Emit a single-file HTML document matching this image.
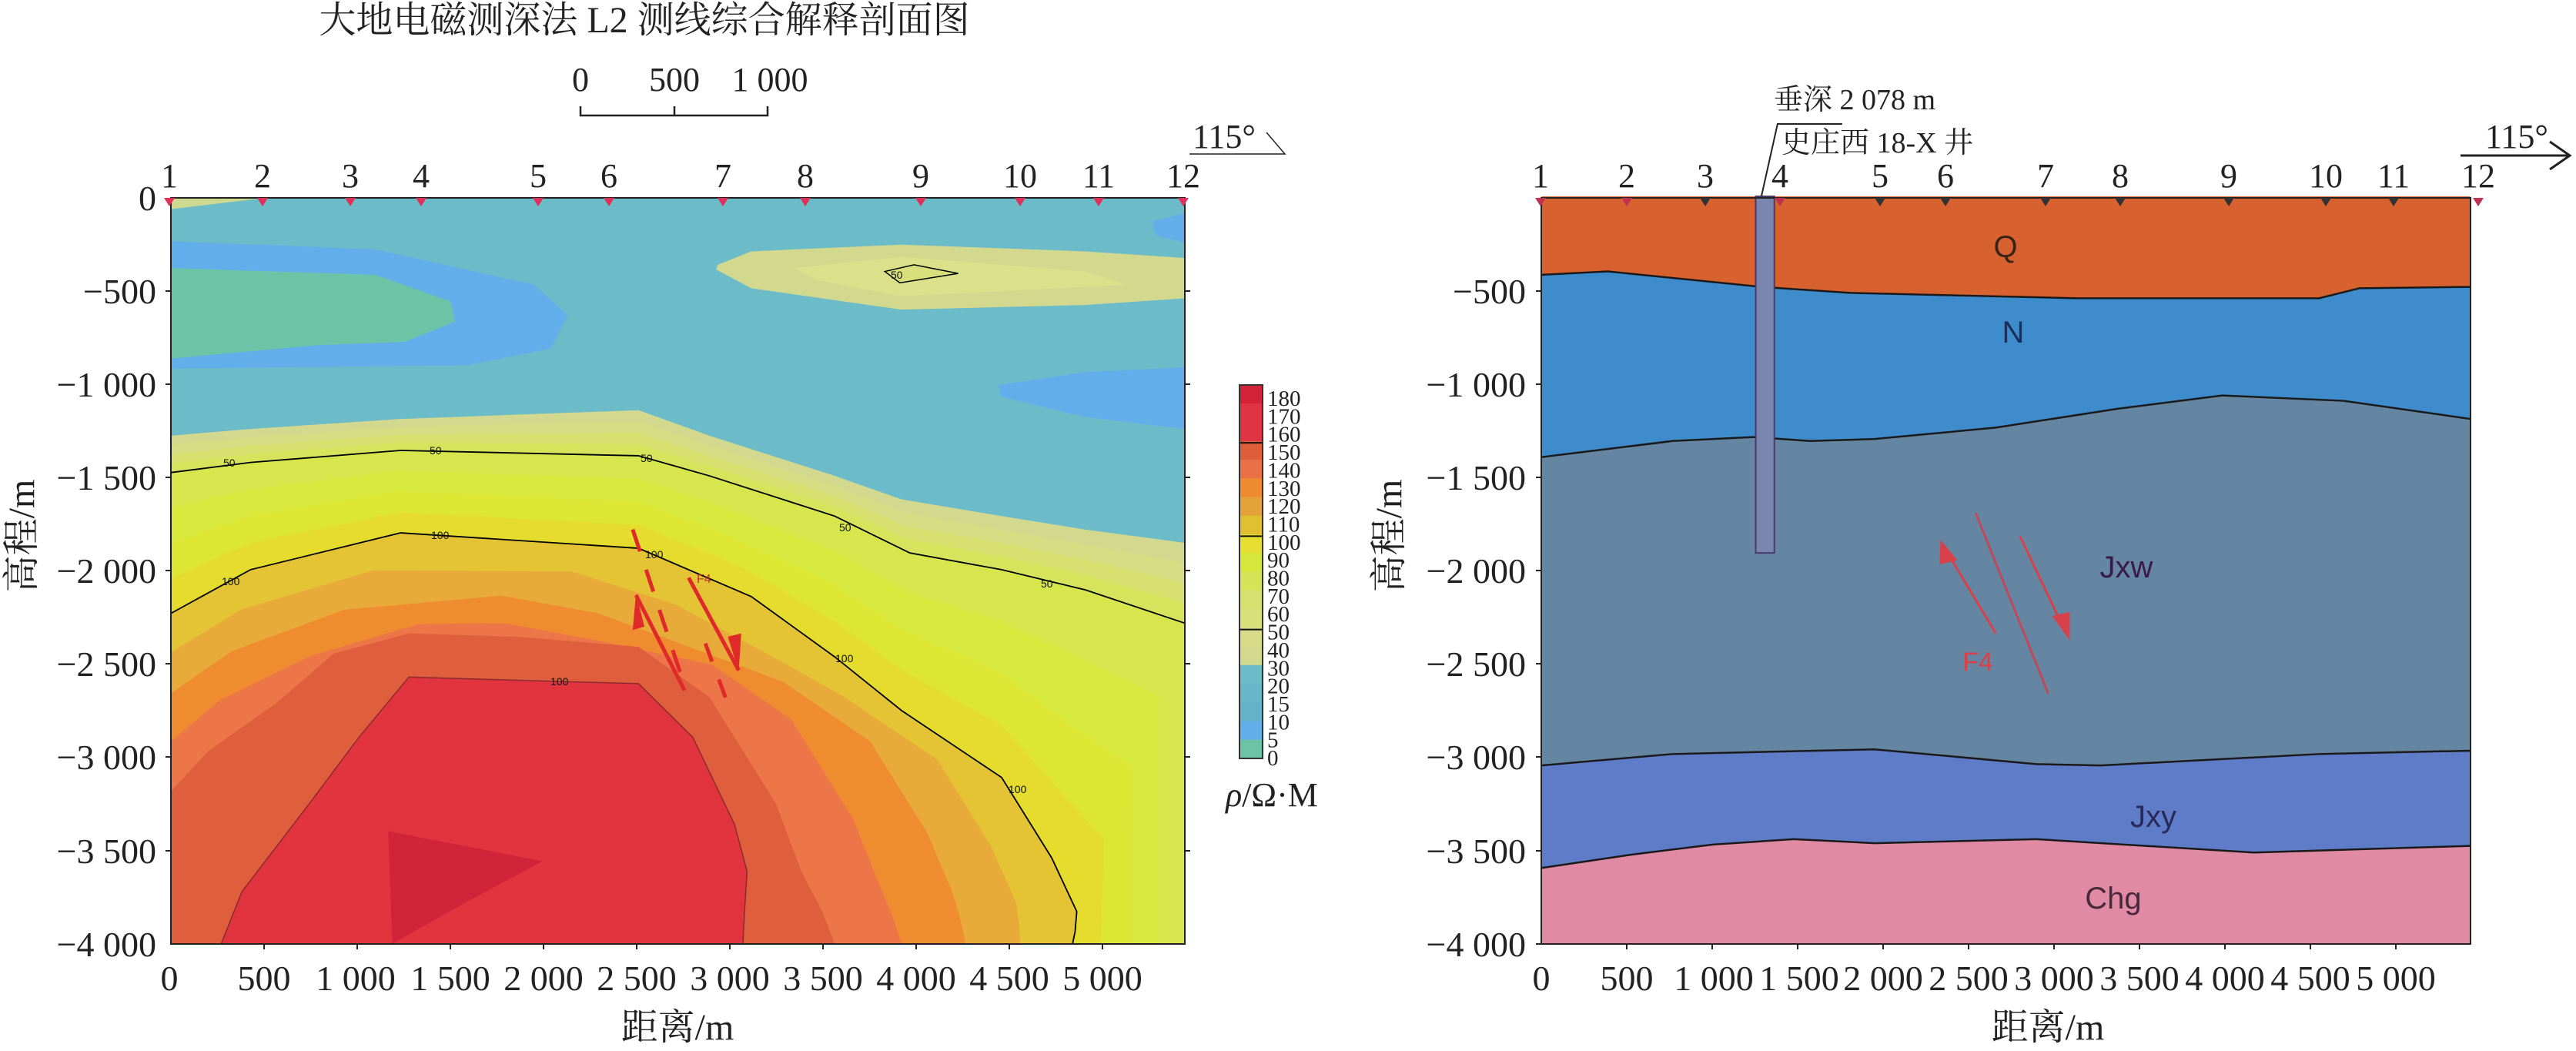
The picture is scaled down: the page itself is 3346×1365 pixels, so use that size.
<!DOCTYPE html>
<html><head><meta charset="utf-8">
<style>
html,body{margin:0;padding:0;background:#fff;}
svg{display:block;}
.s{font-family:"Liberation Serif","Noto Serif CJK SC",serif;}
.a{font-family:"Liberation Sans",sans-serif;}
</style></head><body>
<svg id="svg" width="3346" height="1365" viewBox="0 0 3346 1365" xmlns="http://www.w3.org/2000/svg">
<defs>
<clipPath id="cl"><rect x="205" y="295" width="1215" height="1113"/></clipPath>
</defs>
<rect width="3346" height="1365" fill="#fff"/>
<g transform="scale(1.0842,0.8705)">
 <g clip-path="url(#cl)">
  <rect x="205" y="295" width="1215" height="1113" fill="#6bbcc8"/>
  <polygon points="205,295 320,295 205,312" fill="#cdd98e"/>
  <polygon points="205,360 450,372 640,425 680,470 660,520 560,545 205,550" fill="#62aeea"/>
  <polygon points="205,400 450,410 540,450 545,480 485,510 380,515 205,535" fill="#6cc4a6"/>
  <polygon points="1195,575 1300,555 1420,548 1420,640 1300,622 1200,592" fill="#62aeea"/>
  <polygon points="1380,330 1420,318 1420,362 1385,352" fill="#62aeea"/>
  <polygon points="860,395 900,375 1080,365 1300,375 1420,385 1420,445 1300,455 1080,462 900,430 858,402" fill="#d2d88e"/>
  <polygon points="950,400 1080,383 1300,405 1350,425 1080,442 980,418" fill="#dbe08a"/>
  <polygon points="1060,405 1095,395 1148,408 1078,422" fill="#d8e07c" stroke="#000" stroke-width="1.5" vector-effect="non-scaling-stroke"/>
  <g id="bands"></g>
  <polygon id="core" points="" fill="#e2343f"/>
  <polygon points="465,1240 650,1285 560,1345 470,1408" fill="#d1233a"/>
  <g fill="none">
   <polyline id="c50" stroke="#000" stroke-width="1.8" vector-effect="non-scaling-stroke" points=""/>
   <polyline id="c100" stroke="#000" stroke-width="1.8" vector-effect="non-scaling-stroke" points=""/>
   <polyline id="c150" stroke="#8a2a30" stroke-width="1.5" vector-effect="non-scaling-stroke" points=""/>
  </g>
  <g stroke="#e02a2a" stroke-width="5" fill="none">
   <line x1="758" y1="790" x2="822" y2="1030" stroke-dasharray="30 25" vector-effect="non-scaling-stroke"/>
   <line x1="845" y1="960" x2="875" y2="1060" stroke-dasharray="25 25" vector-effect="non-scaling-stroke"/>
   <line x1="825" y1="862" x2="885" y2="1000" vector-effect="non-scaling-stroke"/>
   <line x1="762" y1="888" x2="820" y2="1030" vector-effect="non-scaling-stroke"/>
   <polygon points="885,1002 872,950 888,945" fill="#e02a2a" stroke="none"/>
   <polygon points="762,885 758,940 772,935" fill="#e02a2a" stroke="none"/>
  </g>
 </g>
</g>
<rect x="222" y="257" width="1317" height="969" fill="none" stroke="#222" stroke-width="2"/>
<g class="a" font-size="14" fill="#111">
 <text x="290" y="606">50</text><text x="558" y="590">50</text><text x="832" y="600">50</text>
 <text x="1090" y="690">50</text><text x="1352" y="763">50</text><text x="1157" y="362">50</text>
 <text x="560" y="700">100</text><text x="288" y="760">100</text><text x="838" y="725">100</text>
 <text x="1085" y="860">100</text><text x="1310" y="1030">100</text><text x="715" y="890">100</text>
</g>
<text x="905" y="757" class="a" font-size="16" fill="#c03030">F4</text>
<g stroke="#222" stroke-width="2">
 <line x1="1539" y1="378" x2="1546" y2="378"/><line x1="1539" y1="499" x2="1546" y2="499"/><line x1="1539" y1="620" x2="1546" y2="620"/><line x1="1539" y1="741" x2="1546" y2="741"/><line x1="1539" y1="862" x2="1546" y2="862"/><line x1="1539" y1="983" x2="1546" y2="983"/><line x1="1539" y1="1105" x2="1546" y2="1105"/>
 <line x1="215" y1="378" x2="222" y2="378"/><line x1="215" y1="499" x2="222" y2="499"/><line x1="215" y1="620" x2="222" y2="620"/><line x1="215" y1="741" x2="222" y2="741"/><line x1="215" y1="862" x2="222" y2="862"/><line x1="215" y1="983" x2="222" y2="983"/><line x1="215" y1="1105" x2="222" y2="1105"/>
 <line x1="343" y1="1226" x2="343" y2="1233"/><line x1="464" y1="1226" x2="464" y2="1233"/><line x1="585" y1="1226" x2="585" y2="1233"/><line x1="706" y1="1226" x2="706" y2="1233"/><line x1="827" y1="1226" x2="827" y2="1233"/><line x1="948" y1="1226" x2="948" y2="1233"/><line x1="1069" y1="1226" x2="1069" y2="1233"/><line x1="1190" y1="1226" x2="1190" y2="1233"/><line x1="1311" y1="1226" x2="1311" y2="1233"/><line x1="1432" y1="1226" x2="1432" y2="1233"/>
</g>
<g class="s" font-size="46" fill="#222" text-anchor="end">
 <text x="203" y="273">0</text><text x="203" y="394">−500</text><text x="203" y="515">−1 000</text><text x="203" y="636">−1 500</text><text x="203" y="757">−2 000</text><text x="203" y="878">−2 500</text><text x="203" y="999">−3 000</text><text x="203" y="1121">−3 500</text><text x="203" y="1242">−4 000</text>
</g>
<g class="s" font-size="46" fill="#222" text-anchor="middle">
 <text x="220" y="1286">0</text><text x="343" y="1286">500</text><text x="462" y="1286">1 000</text><text x="585" y="1286">1 500</text><text x="706" y="1286">2 000</text><text x="827" y="1286">2 500</text><text x="948" y="1286">3 000</text><text x="1069" y="1286">3 500</text><text x="1190" y="1286">4 000</text><text x="1311" y="1286">4 500</text><text x="1432" y="1286">5 000</text>
</g>
<text x="880" y="1350" class="s" font-size="48" fill="#222" text-anchor="middle">距离/m</text>
<text transform="translate(44,696) rotate(-90)" class="s" font-size="48" fill="#222" text-anchor="middle">高程/m</text>
<g class="s" font-size="44" fill="#222" text-anchor="middle">
 <text x="220" y="243">1</text><text x="341" y="243">2</text><text x="455" y="243">3</text><text x="547" y="243">4</text><text x="699" y="243">5</text><text x="791" y="243">6</text><text x="939" y="243">7</text><text x="1046" y="243">8</text><text x="1196" y="243">9</text><text x="1325" y="243">10</text><text x="1427" y="243">11</text><text x="1537" y="243">12</text>
</g>
<g fill="#e0305a" id="trl"></g>
<text x="837" y="42" class="s" font-size="48" fill="#222" text-anchor="middle">大地电磁测深法 L2 测线综合解释剖面图</text>
<g class="s" font-size="44" fill="#222" text-anchor="middle">
 <text x="754" y="118">0</text><text x="876" y="118">500</text><text x="1000" y="118">1 000</text>
</g>
<polyline points="754,138 754,150 997,150 997,138" fill="none" stroke="#222" stroke-width="2.5"/>
<line x1="876" y1="150" x2="876" y2="138" stroke="#222" stroke-width="2.5"/>
<text x="1590" y="192" class="s" font-size="44" fill="#222" text-anchor="middle">115°</text>
<polyline points="1545,200 1669,200 1645,172" fill="none" stroke="#222" stroke-width="1.5"/>
<g id="cb"></g>
<rect x="1610" y="500" width="30" height="485" fill="none" stroke="#333" stroke-width="2"/>
<g class="s" font-size="29" fill="#222" id="cbl"></g>
<text x="1652" y="1047" class="s" font-size="44" fill="#222" text-anchor="middle"><tspan font-style="italic">ρ</tspan>/Ω·M</text>

<g transform="translate(1700,0) scale(1.0498,0.8705)">
 <rect x="288" y="293" width="1149" height="1115" fill="#d8622f"/>
 <polygon points="288,410 370,405 560,428 670,437 950,445 1250,445 1300,430 1437,428 1437,1408 288,1408" fill="#3e8ccb"/>
 <polygon points="288,682 450,658 550,652 620,658 700,655 850,638 1000,610 1130,590 1280,598 1437,625 1437,1408 288,1408" fill="#6586a3"/>
 <polygon points="288,1142 450,1125 700,1118 900,1140 980,1142 1250,1125 1437,1120 1437,1408 288,1408" fill="#5f7cc8"/>
 <polygon points="288,1295 400,1275 500,1260 600,1252 700,1258 900,1252 1170,1272 1437,1262 1437,1408 288,1408" fill="#e08aa6"/>
 <g fill="none" stroke="#1a1a1a" stroke-width="2.5">
  <polyline vector-effect="non-scaling-stroke" points="288,410 370,405 560,428 670,437 950,445 1250,445 1300,430 1437,428"/>
  <polyline vector-effect="non-scaling-stroke" points="288,682 450,658 550,652 620,658 700,655 850,638 1000,610 1130,590 1280,598 1437,625"/>
  <polyline vector-effect="non-scaling-stroke" points="288,1142 450,1125 700,1118 900,1140 980,1142 1250,1125 1437,1120"/>
  <polyline vector-effect="non-scaling-stroke" points="288,1295 400,1275 500,1260 600,1252 700,1258 900,1252 1170,1272 1437,1262"/>
 </g>
 <rect x="553" y="293" width="23" height="532" fill="#7a86b0" stroke="#4a3a6a" stroke-width="2" vector-effect="non-scaling-stroke"/>
 <polyline points="560,293 580,185 660,185" fill="none" stroke="#222" stroke-width="2" vector-effect="non-scaling-stroke"/>
 <g stroke="#d8404a" stroke-width="3" fill="none">
  <line x1="850" y1="945" x2="788" y2="820" vector-effect="non-scaling-stroke"/>
  <line x1="825" y1="765" x2="915" y2="1035" stroke="#c04858" vector-effect="non-scaling-stroke"/>
  <line x1="880" y1="800" x2="935" y2="940" vector-effect="non-scaling-stroke"/>
  <polygon points="783,810 782,840 800,835" fill="#d8404a"/>
  <polygon points="940,950 922,920 940,915" fill="#d8404a"/>
 </g>
</g>
<rect x="2002" y="257" width="1207" height="969" fill="none" stroke="#222" stroke-width="2"/>
<g class="a" font-size="40" text-anchor="middle">
 <text x="2605" y="334" fill="#3a2418">Q</text>
 <text x="2615" y="445" fill="#1a2f5a">N</text>
 <text x="2762" y="750" fill="#3a1a4a">Jxw</text>
 <text x="2797" y="1074" fill="#2a2a5a">Jxy</text>
 <text x="2745" y="1180" fill="#4a2a3a">Chg</text>
 <text x="2569" y="871" fill="#d8404a" font-size="34">F4</text>
</g>
<g class="s" font-size="38" fill="#222">
 <text x="2304" y="142">垂深 2 078 m</text>
 <text x="2314" y="198">史庄西 18-X 井</text>
</g>
<g stroke="#222" stroke-width="2">
 <line x1="1995" y1="378" x2="2002" y2="378"/><line x1="1995" y1="499" x2="2002" y2="499"/><line x1="1995" y1="620" x2="2002" y2="620"/><line x1="1995" y1="741" x2="2002" y2="741"/><line x1="1995" y1="862" x2="2002" y2="862"/><line x1="1995" y1="983" x2="2002" y2="983"/><line x1="1995" y1="1105" x2="2002" y2="1105"/><line x1="1995" y1="1226" x2="2002" y2="1226"/>
 <line x1="2113" y1="1226" x2="2113" y2="1233"/><line x1="2224" y1="1226" x2="2224" y2="1233"/><line x1="2335" y1="1226" x2="2335" y2="1233"/><line x1="2446" y1="1226" x2="2446" y2="1233"/><line x1="2557" y1="1226" x2="2557" y2="1233"/><line x1="2668" y1="1226" x2="2668" y2="1233"/><line x1="2779" y1="1226" x2="2779" y2="1233"/><line x1="2890" y1="1226" x2="2890" y2="1233"/><line x1="3001" y1="1226" x2="3001" y2="1233"/><line x1="3112" y1="1226" x2="3112" y2="1233"/>
</g>
<g class="s" font-size="46" fill="#222" text-anchor="end">
 <text x="1982" y="394">−500</text><text x="1982" y="515">−1 000</text><text x="1982" y="636">−1 500</text><text x="1982" y="757">−2 000</text><text x="1982" y="878">−2 500</text><text x="1982" y="999">−3 000</text><text x="1982" y="1121">−3 500</text><text x="1982" y="1242">−4 000</text>
</g>
<g class="s" font-size="46" fill="#222" text-anchor="middle">
 <text x="2002" y="1286">0</text><text x="2113" y="1286">500</text><text x="2226" y="1286">1 000</text><text x="2337" y="1286">1 500</text><text x="2446" y="1286">2 000</text><text x="2557" y="1286">2 500</text><text x="2668" y="1286">3 000</text><text x="2779" y="1286">3 500</text><text x="2890" y="1286">4 000</text><text x="3001" y="1286">4 500</text><text x="3112" y="1286">5 000</text>
</g>
<text x="2660" y="1350" class="s" font-size="48" fill="#222" text-anchor="middle">距离/m</text>
<text transform="translate(1820,696) rotate(-90)" class="s" font-size="48" fill="#222" text-anchor="middle">高程/m</text>
<g class="s" font-size="44" fill="#222" text-anchor="middle">
 <text x="2001" y="243">1</text><text x="2113" y="243">2</text><text x="2215" y="243">3</text><text x="2312" y="243">4</text><text x="2442" y="243">5</text><text x="2527" y="243">6</text><text x="2657" y="243">7</text><text x="2754" y="243">8</text><text x="2895" y="243">9</text><text x="3021" y="243">10</text><text x="3109" y="243">11</text><text x="3219" y="243">12</text>
</g>
<g id="trr"></g>
<text x="3269" y="192" class="s" font-size="44" fill="#222" text-anchor="middle">115°</text>
<line x1="3196" y1="202" x2="3336" y2="202" stroke="#222" stroke-width="3"/>
<polyline points="3312,184 3338,202 3312,220" fill="none" stroke="#222" stroke-width="3"/>
</svg>
<script>
var NS="http://www.w3.org/2000/svg";
function el(p,t,a){var e=document.createElementNS(NS,t);for(var k in a)e.setAttribute(k,a[k]);p.appendChild(e);return e;}
var K0=[[205,650],[300,640],[480,625],[765,612],[850,650],[1000,710],[1080,745],[1200,770],[1300,790],[1420,810],[1420,1000],[1420,1408]];
var K50=[[205,705],[300,690],[480,672],[765,680],[850,710],[1000,770],[1090,825],[1200,850],[1300,880],[1420,930],[1420,1100],[1420,1408]];
var K100=[[205,915],[300,850],[480,795],[765,818],[900,890],[1000,980],[1080,1060],[1200,1160],[1260,1280],[1290,1360],[1288,1390],[1285,1408]];
var K145=[[205,1180],[250,1120],[330,1050],[400,975],[490,945],[620,950],[765,965],[850,1040],[930,1200],[960,1300],[985,1360],[1000,1408]];
var K150=[[265,1408],[290,1330],[370,1200],[430,1100],[490,1010],[620,1015],[765,1020],[830,1100],[880,1230],[895,1300],[892,1360],[890,1408]];
var C=[K0,K50,K100,K145];
function curve(t){var s=Math.min(Math.floor(t),2),f=t-s,a=C[s],b=C[s+1];return a.map(function(p,i){return [p[0]+(b[i][0]-p[0])*f,p[1]+(b[i][1]-p[1])*f];});}
var L=[[0,'#d2d88e'],[0.25,'#d6dc82'],[0.5,'#d8e070'],[0.75,'#d6e35c'],[1,'#d6e64c'],[1.25,'#d8e83c'],[1.5,'#dde633'],[1.75,'#e6dc2e'],[2,'#e4c434'],[2.22,'#e8ab3a'],[2.45,'#ef8c30'],[2.72,'#ec7648'],[3,'#df5f3c']];
var g=document.getElementById('bands');
function pts(c){return c.map(function(p){return p.join(',')}).join(' ');}
L.forEach(function(l){var c=curve(l[0]);c.push([205,1408]);el(g,'polygon',{points:pts(c),fill:l[1]});});
document.getElementById('core').setAttribute('points',pts(K150));
document.getElementById('c50').setAttribute('points',pts(K50.slice(0,10)));
document.getElementById('c100').setAttribute('points',pts(K100));
document.getElementById('c150').setAttribute('points',pts(K150));
var cb=document.getElementById('cb');
var cols=['#d42238','#e03444','#e03444','#de5e3a','#ea7048','#ee8a30','#e6a23a','#e0c030','#e6de30','#d6e63a','#d4e456','#d6e270','#d8e07c','#d8dc88','#d2d88e','#6bbcc8','#66b8c8','#62b2c8','#62aeea','#6cc4a6'];
var y0=500,h=485/20;
cols.forEach(function(c,i){el(cb,'rect',{x:1610,y:y0+i*h,width:30,height:h+0.5,fill:c});});
[3,8,13].forEach(function(i){el(cb,'line',{x1:1610,x2:1640,y1:y0+i*h+h*0.1,y2:y0+i*h+h*0.1,stroke:'#111','stroke-width':2});});
var labs=['180','170','160','150','140','130','120','110','100','90','80','70','60','50','40','30','20','15','10','5','0'];
var cbl=document.getElementById('cbl');
labs.forEach(function(s,i){var t=el(cbl,'text',{x:1646,y:517+i*23.35+10});t.textContent=s;});
function tri(g,x,c){el(g,'polygon',{points:(x-7)+',257 '+(x+7)+',257 '+x+',268',fill:c});}
var tl=document.getElementById('trl');[220,341,455,547,699,791,939,1046,1196,1325,1427,1537].forEach(function(x){tri(tl,x,'#e0305a');});
var tr=document.getElementById('trr');[2001,2113,2215,2312,2442,2527,2657,2754,2895,3021,3109,3219].forEach(function(x,i){tri(tr,x,(i<2||i==3||i==11)?'#c03050':'#333');});
</script>
</body></html>
